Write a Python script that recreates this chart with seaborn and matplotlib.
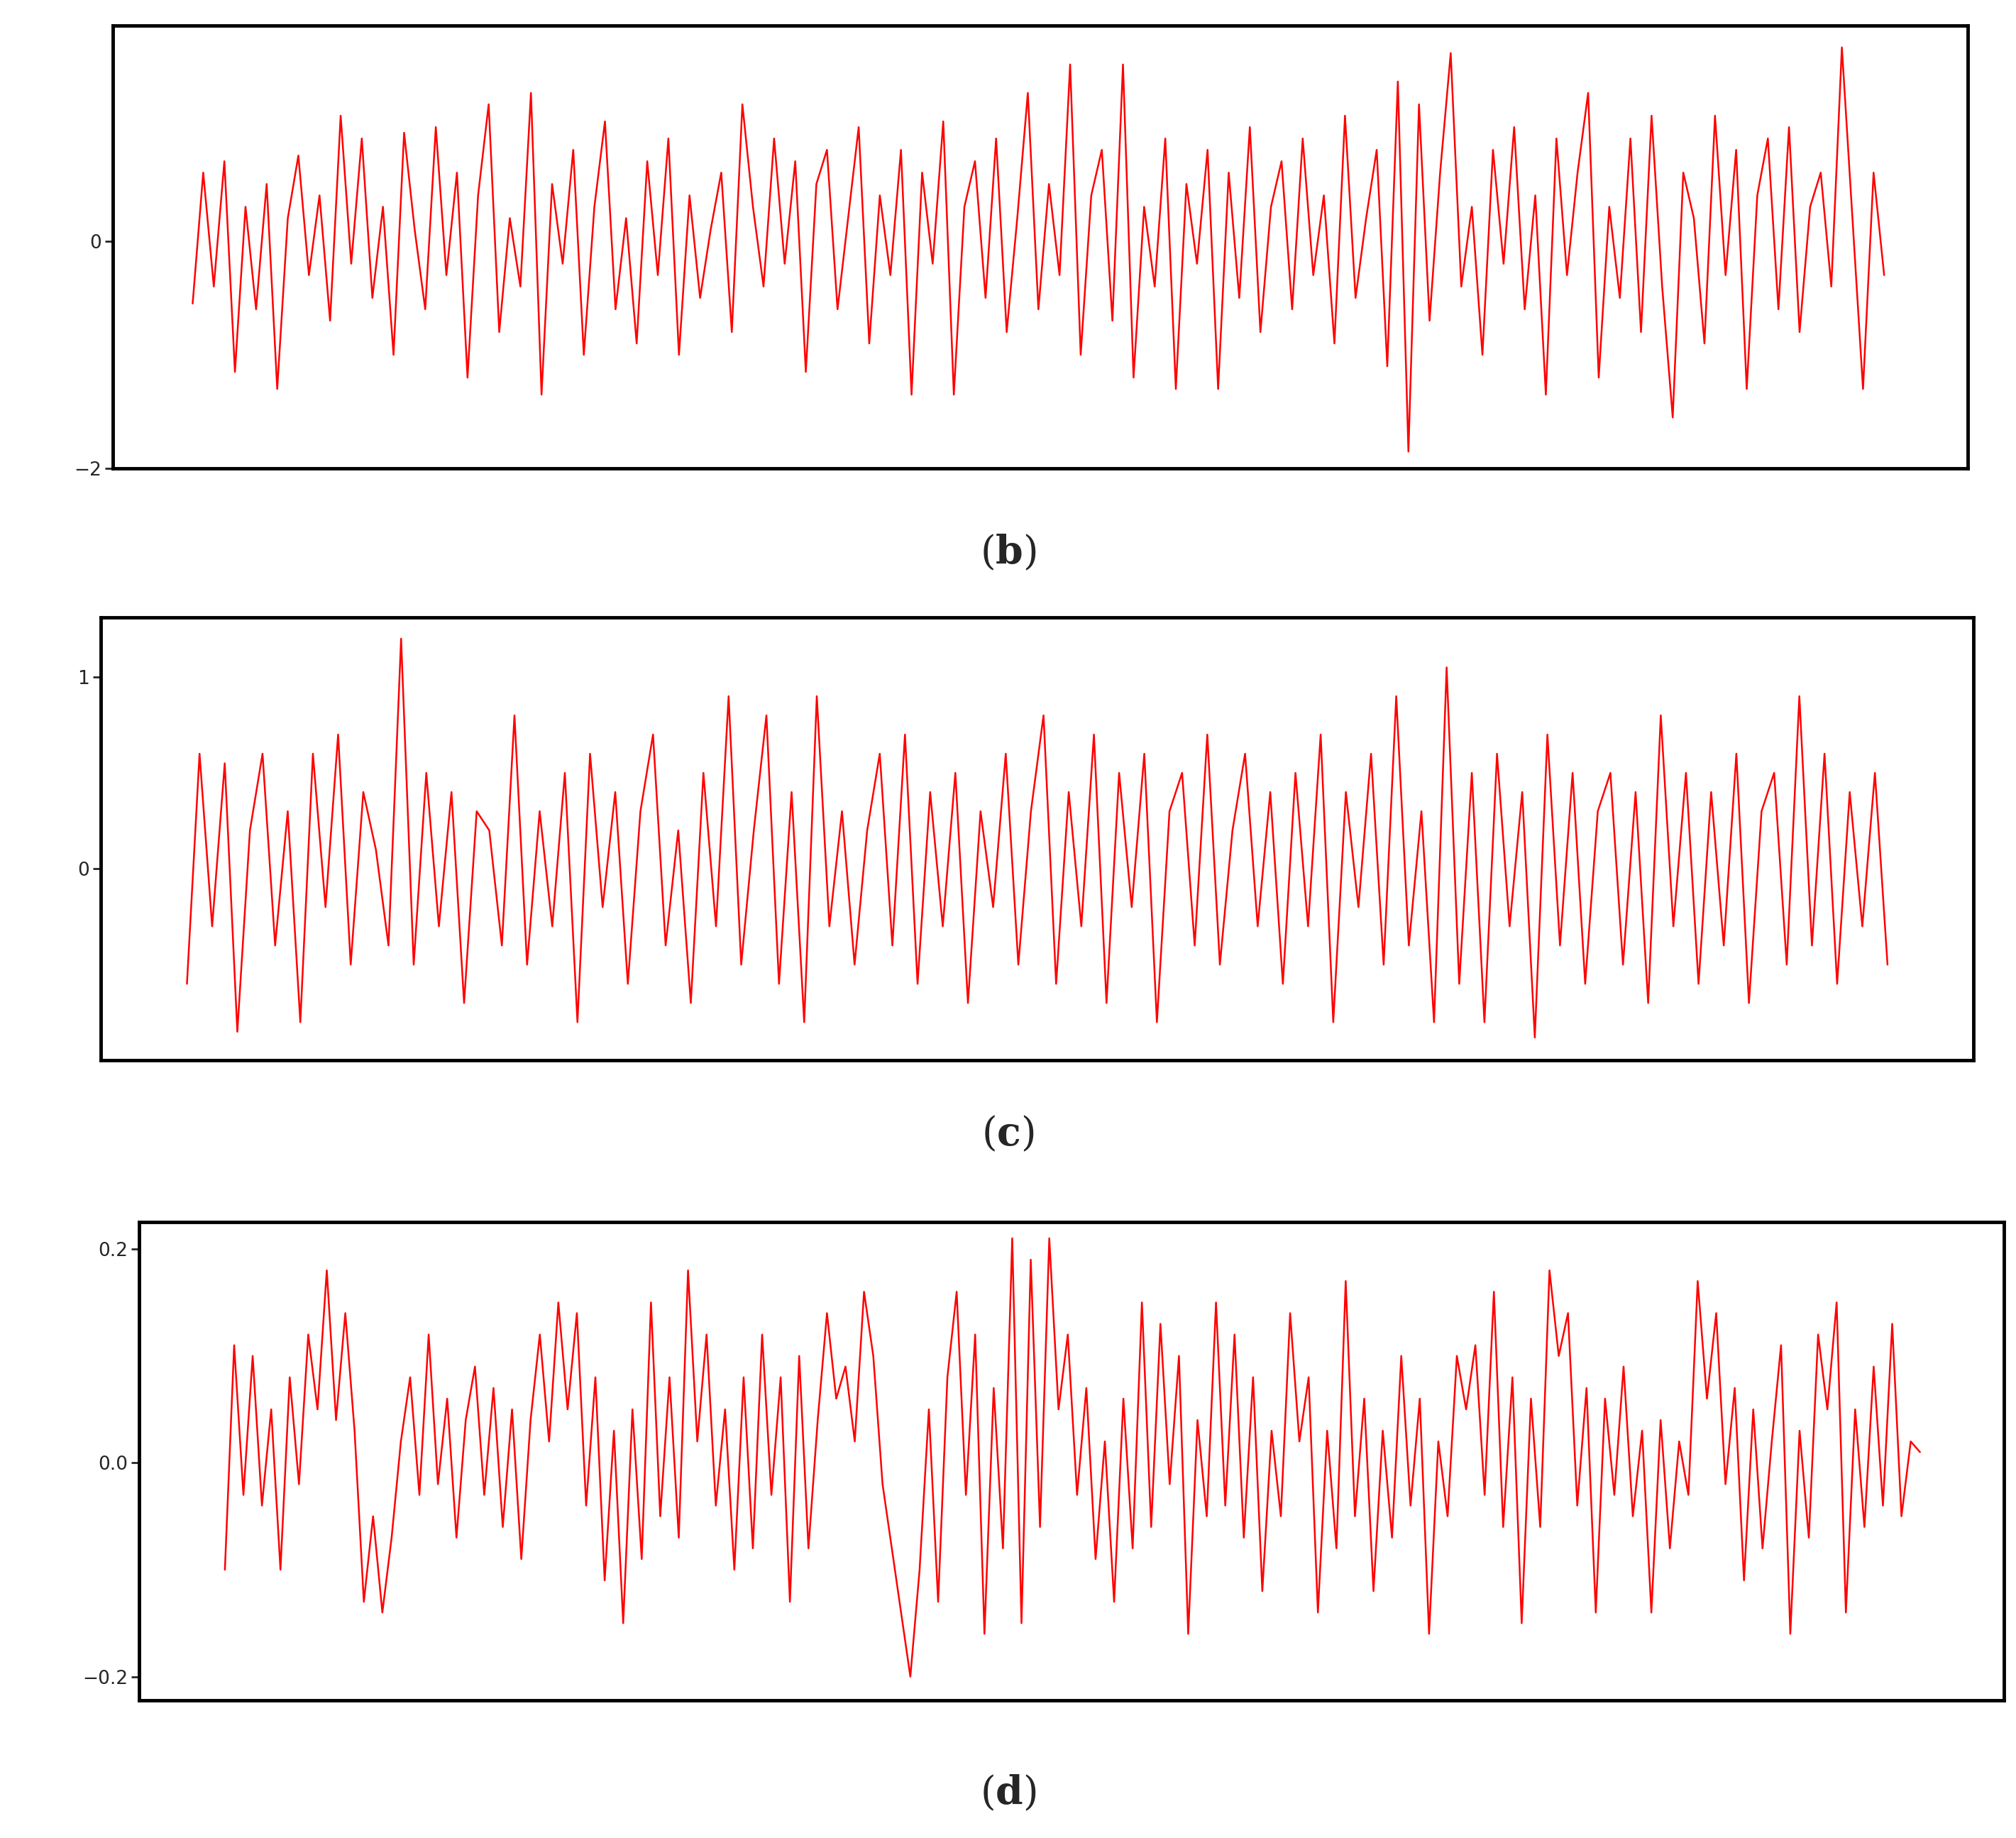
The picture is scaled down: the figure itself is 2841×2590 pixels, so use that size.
import matplotlib
matplotlib.use("Agg")
import matplotlib.pyplot as plt
import seaborn as sns
import numpy as np

series_b = [-0.55, 0.6, -0.4, 0.7, -1.15, 0.3, -0.6, 0.5, -1.3, 0.2, 0.75, -0.3, 0.4, -0.7, 1.1, -0.2, 0.9, -0.5,
            0.3, -1.0, 0.95, 0.1, -0.6, 1.0, -0.3, 0.6, -1.2, 0.4, 1.2, -0.8, 0.2, -0.4, 1.3, -1.35, 0.5, -0.2,
            0.8, -1.0, 0.3, 1.05, -0.6, 0.2, -0.9, 0.7, -0.3, 0.9, -1.0, 0.4, -0.5, 0.1, 0.6, -0.8, 1.2, 0.3,
            -0.4, 0.9, -0.2, 0.7, -1.15, 0.5, 0.8, -0.6, 0.2, 1.0, -0.9, 0.4, -0.3, 0.8, -1.35, 0.6, -0.2, 1.05,
            -1.35, 0.3, 0.7, -0.5, 0.9, -0.8, 0.2, 1.3, -0.6, 0.5, -0.3, 1.55, -1.0, 0.4, 0.8, -0.7, 1.55, -1.2,
            0.3, -0.4, 0.9, -1.3, 0.5, -0.2, 0.8, -1.3, 0.6, -0.5, 1.0, -0.8, 0.3, 0.7, -0.6, 0.9, -0.3, 0.4,
            -0.9, 1.1, -0.5, 0.2, 0.8, -1.1, 1.4, -1.85, 1.2, -0.7, 0.6, 1.65, -0.4, 0.3, -1.0, 0.8, -0.2, 1.0,
            -0.6, 0.4, -1.35, 0.9, -0.3, 0.6, 1.3, -1.2, 0.3, -0.5, 0.9, -0.8, 1.1, -0.4, -1.55, 0.6, 0.2, -0.9,
            1.1, -0.3, 0.8, -1.3, 0.4, 0.9, -0.6, 1.0, -0.8, 0.3, 0.6, -0.4, 1.7, 0.2, -1.3, 0.6, -0.3]
series_c = [-0.6, 0.6, -0.3, 0.55, -0.85, 0.2, 0.6, -0.4, 0.3, -0.8, 0.6, -0.2, 0.7, -0.5, 0.4, 0.1, -0.4, 1.2,
            -0.5, 0.5, -0.3, 0.4, -0.7, 0.3, 0.2, -0.4, 0.8, -0.5, 0.3, -0.3, 0.5, -0.8, 0.6, -0.2, 0.4, -0.6,
            0.3, 0.7, -0.4, 0.2, -0.7, 0.5, -0.3, 0.9, -0.5, 0.2, 0.8, -0.6, 0.4, -0.8, 0.9, -0.3, 0.3, -0.5,
            0.2, 0.6, -0.4, 0.7, -0.6, 0.4, -0.3, 0.5, -0.7, 0.3, -0.2, 0.6, -0.5, 0.3, 0.8, -0.6, 0.4, -0.3,
            0.7, -0.7, 0.5, -0.2, 0.6, -0.8, 0.3, 0.5, -0.4, 0.7, -0.5, 0.2, 0.6, -0.3, 0.4, -0.6, 0.5, -0.3,
            0.7, -0.8, 0.4, -0.2, 0.6, -0.5, 0.9, -0.4, 0.3, -0.8, 1.05, -0.6, 0.5, -0.8, 0.6, -0.3, 0.4, -0.88,
            0.7, -0.4, 0.5, -0.6, 0.3, 0.5, -0.5, 0.4, -0.7, 0.8, -0.3, 0.5, -0.6, 0.4, -0.4, 0.6, -0.7, 0.3,
            0.5, -0.5, 0.9, -0.4, 0.6, -0.6, 0.4, -0.3, 0.5, -0.5]
series_d = [-0.1, 0.11, -0.03, 0.1, -0.04, 0.05, -0.1, 0.08, -0.02, 0.12, 0.05, 0.18, 0.04, 0.14, 0.03, -0.13,
            -0.05, -0.14, -0.07, 0.02, 0.08, -0.03, 0.12, -0.02, 0.06, -0.07, 0.04, 0.09, -0.03, 0.07, -0.06, 0.05,
            -0.09, 0.04, 0.12, 0.02, 0.15, 0.05, 0.14, -0.04, 0.08, -0.11, 0.03, -0.15, 0.05, -0.09, 0.15, -0.05,
            0.08, -0.07, 0.18, 0.02, 0.12, -0.04, 0.05, -0.1, 0.08, -0.08, 0.12, -0.03, 0.08, -0.13, 0.1, -0.08,
            0.04, 0.14, 0.06, 0.09, 0.02, 0.16, 0.1, -0.02, -0.08, -0.14, -0.2, -0.1, 0.05, -0.13, 0.08, 0.16,
            -0.03, 0.12, -0.16, 0.07, -0.08, 0.21, -0.15, 0.19, -0.06, 0.21, 0.05, 0.12, -0.03, 0.07, -0.09, 0.02,
            -0.13, 0.06, -0.08, 0.15, -0.06, 0.13, -0.02, 0.1, -0.16, 0.04, -0.05, 0.15, -0.04, 0.12, -0.07, 0.08,
            -0.12, 0.03, -0.05, 0.14, 0.02, 0.08, -0.14, 0.03, -0.08, 0.17, -0.05, 0.06, -0.12, 0.03, -0.07, 0.1,
            -0.04, 0.06, -0.16, 0.02, -0.05, 0.1, 0.05, 0.11, -0.03, 0.16, -0.06, 0.08, -0.15, 0.06, -0.06, 0.18,
            0.1, 0.14, -0.04, 0.07, -0.14, 0.06, -0.03, 0.09, -0.05, 0.03, -0.14, 0.04, -0.08, 0.02, -0.03, 0.17,
            0.06, 0.14, -0.02, 0.07, -0.11, 0.05, -0.08, 0.02, 0.11, -0.16, 0.03, -0.07, 0.12, 0.05, 0.15, -0.14,
            0.05, -0.06, 0.09, -0.04, 0.13, -0.05, 0.02, 0.01]

RED = "#ff0000"

sns.set_style("white")
plt.rcParams['font.family'] = ['DejaVu Sans']
fig = plt.figure(figsize=(28.41, 25.9), dpi=100)

panels = [
    (series_b, [0.056, 0.745, 0.92, 0.241], (-2.0, 1.89), [-2, 0], ["\u22122", "0"], 0.043, 0.955, 0.699, "b"),
    (series_c, [0.050, 0.423, 0.929, 0.241], (-1.0, 1.31), [0, 1], ["0", "1"], 0.046, 0.954, 0.383, "c"),
    (series_d, [0.069, 0.075, 0.925, 0.260], (-0.222, 0.225), [-0.2, 0.0, 0.2], ["\u22120.2", "0.0", "0.2"], 0.046, 0.955, 0.024, "d"),
]

for vals, rect, ylim, ticks, tlabels, f0, f1, ly, letter in panels:
    ax = fig.add_axes(rect)
    x = np.arange(len(vals))
    sns.lineplot(x=x, y=vals, ax=ax, color=RED, linewidth=1.8)
    n = len(vals) - 1
    span = n / (f1 - f0)
    ax.set_xlim(-f0 * span, -f0 * span + span)
    ax.set_ylim(*ylim)
    ax.set_xticks([])
    ax.set_yticks(ticks)
    ax.set_yticklabels(tlabels, fontsize=19)
    ax.tick_params(axis="y", length=8, width=2, left=True)
    for s in ax.spines.values():
        s.set_linewidth(3.5)
        s.set_color("black")
    fig.text(0.5, ly, "(" + r"$\mathbf{" + letter + "}$" + ")", ha="center", va="center",
             fontsize=40, family="DejaVu Serif", math_fontfamily="dejavuserif")

fig.savefig("out.png", dpi=100)
